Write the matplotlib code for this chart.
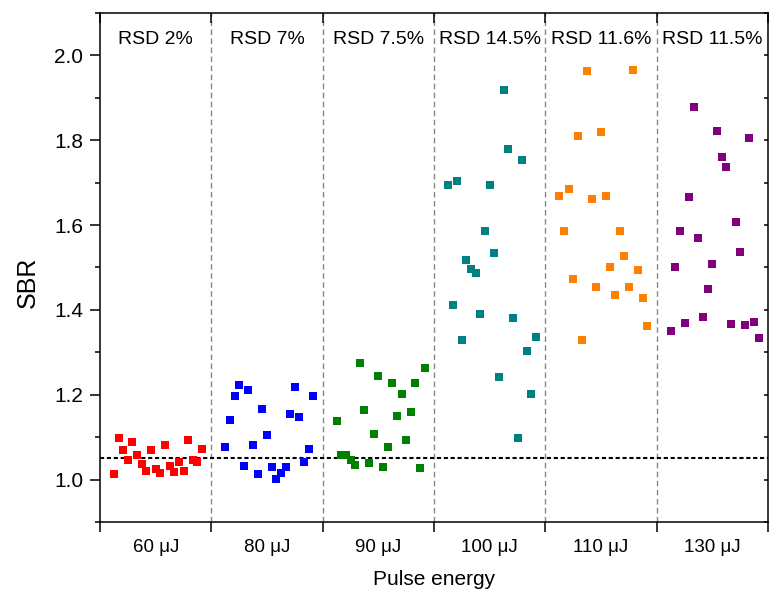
import numpy as np
import matplotlib
matplotlib.use("Agg")
import matplotlib.pyplot as plt
from matplotlib.ticker import MultipleLocator, FixedLocator

plt.rcParams["font.family"] = ["Liberation Sans", "DejaVu Sans"]

energies = ["60 μJ", "80 μJ", "90 μJ", "100 μJ", "110 μJ", "130 μJ"]
rsd_labels = ["RSD 2%", "RSD 7%", "RSD 7.5%", "RSD 14.5%", "RSD 11.6%", "RSD 11.5%"]
colors = ["#ff0000", "#0000ff", "#008000", "#008080", "#ff8000", "#800080"]

sbr_60 = [1.013, 1.097, 1.070, 1.047, 1.088, 1.057, 1.036, 1.020, 1.070, 1.024,
          1.016, 1.081, 1.032, 1.018, 1.041, 1.020, 1.093, 1.047, 1.042, 1.071]
sbr_80 = [1.077, 1.140, 1.197, 1.224, 1.033, 1.212, 1.082, 1.014, 1.167, 1.104,
          1.029, 1.002, 1.015, 1.029, 1.155, 1.219, 1.148, 1.041, 1.071, 1.196]
sbr_90 = [1.137, 1.057, 1.059, 1.046, 1.034, 1.275, 1.163, 1.038, 1.107, 1.243,
          1.029, 1.076, 1.228, 1.151, 1.201, 1.094, 1.160, 1.228, 1.028, 1.264]
sbr_100 = [1.695, 1.412, 1.704, 1.329, 1.518, 1.497, 1.486, 1.391, 1.586, 1.695,
           1.535, 1.242, 1.918, 1.780, 1.380, 1.097, 1.754, 1.302, 1.201, 1.337]
sbr_110 = [1.669, 1.587, 1.686, 1.474, 1.810, 1.330, 1.963, 1.662, 1.453, 1.820,
           1.669, 1.500, 1.436, 1.587, 1.528, 1.453, 1.966, 1.493, 1.429, 1.363]
sbr_130 = [1.351, 1.501, 1.586, 1.368, 1.667, 1.878, 1.569, 1.384, 1.449, 1.508,
           1.822, 1.761, 1.737, 1.367, 1.607, 1.537, 1.365, 1.805, 1.372, 1.333]
groups = [sbr_60, sbr_80, sbr_90, sbr_100, sbr_110, sbr_130]
threshold = 1.05

fig = plt.figure(figsize=(7.7, 5.9), dpi=100)
ax = fig.add_axes([0.1299, 0.1153, 0.8675, 0.8627])

for g, (vals, col) in enumerate(zip(groups, colors)):
    xs = g + np.linspace(3 / 24, 22 / 24, len(vals))
    ax.plot(xs, vals, "s", color=col, ms=6.2, mew=0, zorder=3)

n = len(groups)
for k in range(1, n):
    ax.axvline(k, color="#888888", lw=1.0, ls=(0, (4, 2.5)), zorder=1)
ax.axhline(threshold, color="black", lw=1.5, ls=(0, (2, 1.3)), zorder=2)

for g, lab in enumerate(rsd_labels):
    ax.text(g + 0.5, 2.038, lab, ha="center", va="center", fontsize=14)

ax.set_xlim(0, n)
ax.set_ylim(0.9, 2.1)

ax.xaxis.set_major_locator(FixedLocator(range(n + 1)))
ax.xaxis.set_minor_locator(FixedLocator([g + 0.5 for g in range(n)]))
ax.set_xticklabels([])
ax.set_xticklabels(energies, minor=True, fontsize=13.5)
ax.tick_params(axis="x", which="major", direction="out", length=7.5, width=1.1,
               top=True)
ax.tick_params(axis="x", which="minor", length=0, pad=12)
for t in ax.xaxis.get_major_ticks():
    t.tick2line.set_marker(3)  # inward from top
    t.tick2line.set_markersize(7)

ax.yaxis.set_major_locator(MultipleLocator(0.2))
ax.yaxis.set_minor_locator(MultipleLocator(0.1))
ax.set_yticks(np.arange(1.0, 2.01, 0.2))
ax.tick_params(axis="y", which="major", direction="out", length=7, width=1.1,
               labelsize=15, pad=5)
ax.tick_params(axis="y", which="minor", direction="out", length=3.5, width=1.1)
ax.tick_params(axis="y", which="both", right=True)
for t in ax.yaxis.get_major_ticks() + ax.yaxis.get_minor_ticks():
    t.tick2line.set_marker(0)  # inward on right
    t.tick2line.set_markersize(3)

for sp in ax.spines.values():
    sp.set_linewidth(1.1)

ax.set_ylabel("SBR", fontsize=18)
ax.yaxis.set_label_coords(-0.09, 0.47)
ax.set_xlabel("Pulse energy", fontsize=15, labelpad=10)

fig.savefig("out.png", dpi=100)
